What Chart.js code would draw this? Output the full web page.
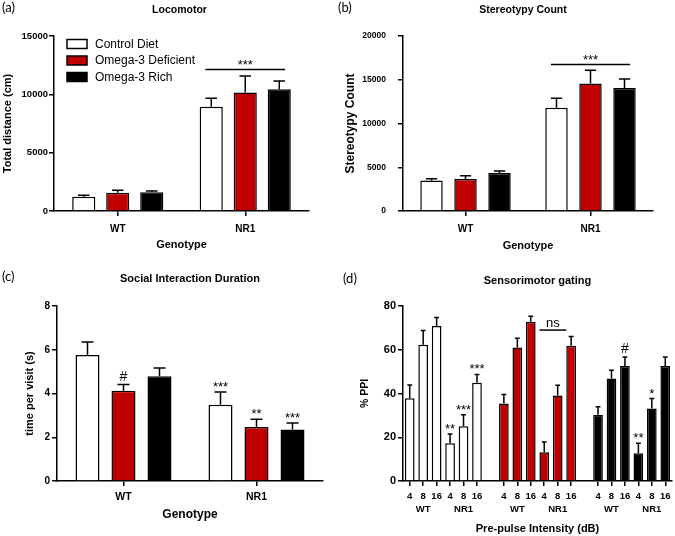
<!DOCTYPE html>
<html>
<head>
<meta charset="utf-8">
<script src="https://cdn.jsdelivr.net/npm/chart.js@4.4.1/dist/chart.umd.min.js"></script>
<style>
  body { margin: 0; background: #fff; }
  .panel { position: absolute; }
</style>
</head>
<body>
<div class="panel" style="left:0;top:0;width:337px;height:268px"><canvas id="locoChart"></canvas></div>
<div class="panel" style="left:337px;top:0;width:338px;height:268px"><canvas id="stereoChart"></canvas></div>
<div class="panel" style="left:0;top:268px;width:337px;height:268px"><canvas id="socialChart"></canvas></div>
<div class="panel" style="left:337px;top:268px;width:338px;height:268px"><canvas id="ppiChart"></canvas></div>
<script>
// ---- data ----
const genotypes = ['WT', 'NR1'];
const diets = ['Control Diet', 'Omega-3 Deficient', 'Omega-3 Rich'];

// (a) locomotor, total distance (cm)
const locoControl = [1230, 8930];
const locoControlErr = [110, 740];
const locoDeficient = [1570, 10150];
const locoDeficientErr = [200, 1430];
const locoRich = [1600, 10440];
const locoRichErr = [110, 710];

// (b) stereotypy count
const stereoControl = [3500, 11790];
const stereoControlErr = [190, 1100];
const stereoDeficient = [3650, 14560];
const stereoDeficientErr = [380, 1520];
const stereoRich = [4330, 14070];
const stereoRichErr = [230, 1030];

// (c) social interaction, time per visit (s)
const socialControl = [5.76, 3.49];
const socialControlErr = [0.60, 0.58];
const socialDeficient = [4.13, 2.47];
const socialDeficientErr = [0.28, 0.35];
const socialRich = [4.79, 2.35];
const socialRichErr = [0.38, 0.30];
const socialControlMarks = ['', '***'];
const socialDeficientMarks = ['#', '**'];
const socialRichMarks = ['', '***'];

// (d) % PPI, order: WT 4/8/16 dB, NR1 4/8/16 dB
const intensities = ['4', '8', '16'];
const ppiControl = [37.8, 62.3, 70.9, 17.3, 25.0, 44.9];
const ppiControlErr = [6.1, 6.5, 3.9, 4.2, 5.3, 3.8];
const ppiDeficient = [35.4, 61.0, 72.8, 13.2, 39.1, 61.8];
const ppiDeficientErr = [4.1, 4.3, 2.5, 4.6, 4.7, 4.3];
const ppiRich = [30.3, 46.9, 52.6, 12.7, 33.1, 52.6];
const ppiRichErr = [3.7, 3.7, 4.1, 4.6, 4.6, 4.1];
const ppiControlMarks = ['', '', '', '**', '***', '***'];
const ppiRichMarks = ['', '', '#', '**', '*', ''];

// ---- styles ----
const FONT = "'Liberation Sans', Arial, sans-serif";
const dietColors = ['#ffffff', '#c00000', '#000000'];
Chart.defaults.font.family = FONT;
Chart.defaults.color = '#000';

// one slot per bar, plus an empty slot between the diet groups
const ppiLabels = [];
diets.forEach((d, g) => {
  genotypes.forEach(gt => intensities.forEach(db => ppiLabels.push([db, db === '8' ? gt : ''])));
  if (g < diets.length - 1) ppiLabels.push('');
});
const groupSize = genotypes.length * intensities.length + 1;
function spread(values, g) {
  const out = new Array(ppiLabels.length).fill(null);
  values.forEach((v, k) => { out[g * groupSize + k] = v; });
  return out;
}

function barSet(i, values, errors, marks) {
  return {
    label: diets[i],
    data: values,
    errors: errors,
    marks: marks || [],
    backgroundColor: dietColors[i],
    borderColor: '#000',
    borderWidth: 1.5,
    skipNull: true
  };
}

// error bars, significance marks, titles, legend
const extras = {
  id: 'extras',
  afterDatasetsDraw(chart, args, opts) {
    const ctx = chart.ctx;
    const yScale = chart.scales.y;
    ctx.save();
    ctx.strokeStyle = '#000';
    ctx.fillStyle = '#000';
    ctx.lineWidth = 1.5;
    ctx.textAlign = 'center';
    ctx.textBaseline = 'alphabetic';
    chart.data.datasets.forEach((ds, i) => {
      chart.getDatasetMeta(i).data.forEach((bar, j) => {
        const v = ds.data[j];
        if (v === null || v === undefined) return;
        const top = yScale.getPixelForValue(v + ds.errors[j]);
        const half = bar.width / 4;
        ctx.beginPath();
        ctx.moveTo(bar.x, bar.y);
        ctx.lineTo(bar.x, top);
        ctx.moveTo(bar.x - half, top);
        ctx.lineTo(bar.x + half, top);
        ctx.stroke();
        const mark = ds.marks[j];
        if (mark) {
          const hash = mark === '#';
          ctx.font = (hash ? '14px ' : '13px ') + FONT;
          ctx.fillText(mark, bar.x, top - (hash ? 4 : 1));
        }
      });
    });
    if (opts.bracket) {
      const b = opts.bracket;
      const p1 = chart.getDatasetMeta(b.from[0]).data[b.from[1]];
      const p2 = chart.getDatasetMeta(b.to[0]).data[b.to[1]];
      const x1 = p1.x + b.from[2] * p1.width;
      const x2 = p2.x + b.to[2] * p2.width;
      const y = yScale.getPixelForValue(b.value);
      ctx.beginPath();
      ctx.moveTo(x1, y);
      ctx.lineTo(x2, y);
      ctx.stroke();
      ctx.font = '13px ' + FONT;
      ctx.fillText(b.text, (x1 + x2) / 2, y - b.gap);
    }
    ctx.restore();
  },
  afterDraw(chart, args, opts) {
    const ctx = chart.ctx;
    const area = chart.chartArea;
    ctx.save();
    ctx.fillStyle = '#000';
    ctx.textBaseline = 'middle';
    ctx.font = '13px Lato, ' + FONT;
    ctx.textAlign = 'left';
    ctx.fillText(opts.letter, opts.letterX, opts.letterY);
    ctx.font = 'bold ' + opts.titleSize + 'px ' + FONT;
    ctx.textAlign = 'center';
    ctx.fillText(opts.title, (area.left + area.right) / 2 + opts.titleShift, opts.titleY);
    if (opts.legend) {
      ctx.font = '12px ' + FONT;
      ctx.textAlign = 'left';
      ctx.lineWidth = 1.5;
      chart.data.datasets.forEach((ds, i) => {
        const cy = area.top + 8 + i * 16.5;
        const bx = area.left + 13;
        ctx.fillStyle = ds.backgroundColor;
        ctx.fillRect(bx, cy - 4.5, 20, 9);
        ctx.strokeStyle = '#000';
        ctx.strokeRect(bx, cy - 4.5, 20, 9);
        ctx.fillStyle = '#000';
        ctx.fillText(ds.label, bx + 28, cy + 0.5);
      });
    }
    ctx.restore();
  }
};

function xAxis(cfg) {
  return {
    grid: { display: true, drawOnChartArea: false, offset: false, tickLength: 5, lineWidth: 1.5, color: '#000',
            tickColor: cfg.tickColor || '#000' },
    border: { color: '#000', width: 1.5 },
    ticks: { font: cfg.tickFont, padding: cfg.tickPad, autoSkip: false, maxRotation: 0, color: '#000' },
    title: { display: true, text: cfg.title, font: { size: cfg.titleSize, weight: 'bold' },
             padding: { top: 0, bottom: cfg.titlePad }, color: '#000' },
    afterFit: s => { s.height = cfg.height; }
  };
}

function yAxis(cfg) {
  return {
    min: 0,
    max: cfg.max,
    grid: { drawOnChartArea: false, tickLength: 5, lineWidth: 1.5, color: '#000' },
    border: { color: '#000', width: 1.5 },
    ticks: { stepSize: cfg.step, font: { size: cfg.tickSize, weight: 'bold' }, padding: cfg.tickPad, color: '#000',
             callback: v => String(v) },
    title: { display: true, text: cfg.title, font: { size: cfg.titleSize, weight: 'bold' },
             padding: { top: cfg.titlePad, bottom: 0 }, color: '#000' },
    afterFit: s => { s.width = cfg.width; }
  };
}

function baseOptions(padding, bars, extrasOpts, x, y) {
  return {
    responsive: true,
    maintainAspectRatio: false,
    animation: false,
    layout: { padding: padding },
    datasets: { bar: bars },
    plugins: { legend: { display: false }, tooltip: { enabled: false }, extras: extrasOpts },
    scales: { x: x, y: y }
  };
}

// ---- (a) Locomotor ----
new Chart(document.getElementById('locoChart'), {
  type: 'bar',
  data: {
    labels: genotypes,
    datasets: [
      barSet(0, locoControl, locoControlErr),
      barSet(1, locoDeficient, locoDeficientErr),
      barSet(2, locoRich, locoRichErr)
    ]
  },
  options: baseOptions(
    { top: 36, right: 28, bottom: 0, left: 0 },
    { categoryPercentage: 0.8, barPercentage: 0.68 },
    { letter: '(a)', letterX: 2, letterY: 8, title: 'Locomotor', titleSize: 10.5, titleShift: -2, titleY: 10,
      legend: true, bracket: { from: [0, 1, -0.25], to: [2, 1, 0.25], value: 12120, text: '***', gap: 1 } },
    xAxis({ tickFont: { size: 10, weight: 'bold' }, tickPad: 7, title: 'Genotype', titleSize: 11, titlePad: 16, height: 57 }),
    yAxis({ max: 15000, step: 5000, tickSize: 9.5, tickPad: 1, title: 'Total distance (cm)', titleSize: 11, titlePad: 1, width: 54 })
  ),
  plugins: [extras]
});

// ---- (b) Stereotypy Count ----
new Chart(document.getElementById('stereoChart'), {
  type: 'bar',
  data: {
    labels: genotypes,
    datasets: [
      barSet(0, stereoControl, stereoControlErr),
      barSet(1, stereoDeficient, stereoDeficientErr),
      barSet(2, stereoRich, stereoRichErr)
    ]
  },
  options: baseOptions(
    { top: 36, right: 22, bottom: 0, left: 0 },
    { categoryPercentage: 0.816, barPercentage: 0.66 },
    { letter: '(b)', letterX: 1, letterY: 8, title: 'Stereotypy Count', titleSize: 10.5, titleShift: -5, titleY: 10,
      bracket: { from: [0, 1, -0.25], to: [2, 1, 0.25], value: 16730, text: '***', gap: 1 } },
    xAxis({ tickFont: { size: 10, weight: 'bold' }, tickPad: 7, title: 'Genotype', titleSize: 11, titlePad: 15, height: 57 }),
    yAxis({ max: 20000, step: 5000, tickSize: 8.5, tickPad: 12, title: 'Stereotypy Count', titleSize: 12, titlePad: 6, width: 66 })
  ),
  plugins: [extras]
});

// ---- (c) Social Interaction Duration ----
new Chart(document.getElementById('socialChart'), {
  type: 'bar',
  data: {
    labels: genotypes,
    datasets: [
      barSet(0, socialControl, socialControlErr, socialControlMarks),
      barSet(1, socialDeficient, socialDeficientErr, socialDeficientMarks),
      barSet(2, socialRich, socialRichErr, socialRichMarks)
    ]
  },
  options: baseOptions(
    { top: 38, right: 14, bottom: 0, left: 0 },
    { categoryPercentage: 0.812, barPercentage: 0.667 },
    { letter: '(c)', letterX: 2, letterY: 9, title: 'Social Interaction Duration', titleSize: 11, titleShift: 0, titleY: 11 },
    xAxis({ tickFont: { size: 10.5, weight: 'bold' }, tickPad: 5, title: 'Genotype', titleSize: 12, titlePad: 14, height: 55 }),
    yAxis({ max: 8, step: 2, tickSize: 10, tickPad: 2, title: 'time per visit (s)', titleSize: 11, titlePad: 23, width: 57 })
  ),
  plugins: [extras]
});

// ---- (d) Sensorimotor gating ----
new Chart(document.getElementById('ppiChart'), {
  type: 'bar',
  data: {
    labels: ppiLabels,
    datasets: [
      barSet(0, spread(ppiControl, 0), spread(ppiControlErr, 0), spread(ppiControlMarks, 0)),
      barSet(1, spread(ppiDeficient, 1), spread(ppiDeficientErr, 1)),
      barSet(2, spread(ppiRich, 2), spread(ppiRichErr, 2), spread(ppiRichMarks, 2))
    ]
  },
  options: baseOptions(
    { top: 38, right: 3, bottom: 0, left: 0 },
    { categoryPercentage: 1, barPercentage: 0.72 },
    { letter: '(d)', letterX: 6, letterY: 11, title: 'Sensorimotor gating', titleSize: 11, titleShift: 0, titleY: 13,
      bracket: { from: [1, groupSize + 3, -0.5], to: [1, groupSize + 5, -0.5], value: 69, text: 'ns', gap: 3 } },
    xAxis({ tickFont: { size: 9.5, weight: 'bold', lineHeight: 1.45 }, tickPad: 3, title: 'Pre-pulse Intensity (dB)',
            titleSize: 11, titlePad: 0, height: 55,
            tickColor: c => (ppiLabels[c.index] === '' ? 'rgba(0,0,0,0)' : '#000') }),
    yAxis({ max: 80, step: 20, tickSize: 11, tickPad: 2, title: '% PPI', titleSize: 10.5, titlePad: 22, width: 66 })
  ),
  plugins: [extras]
});
</script>
</body>
</html>
